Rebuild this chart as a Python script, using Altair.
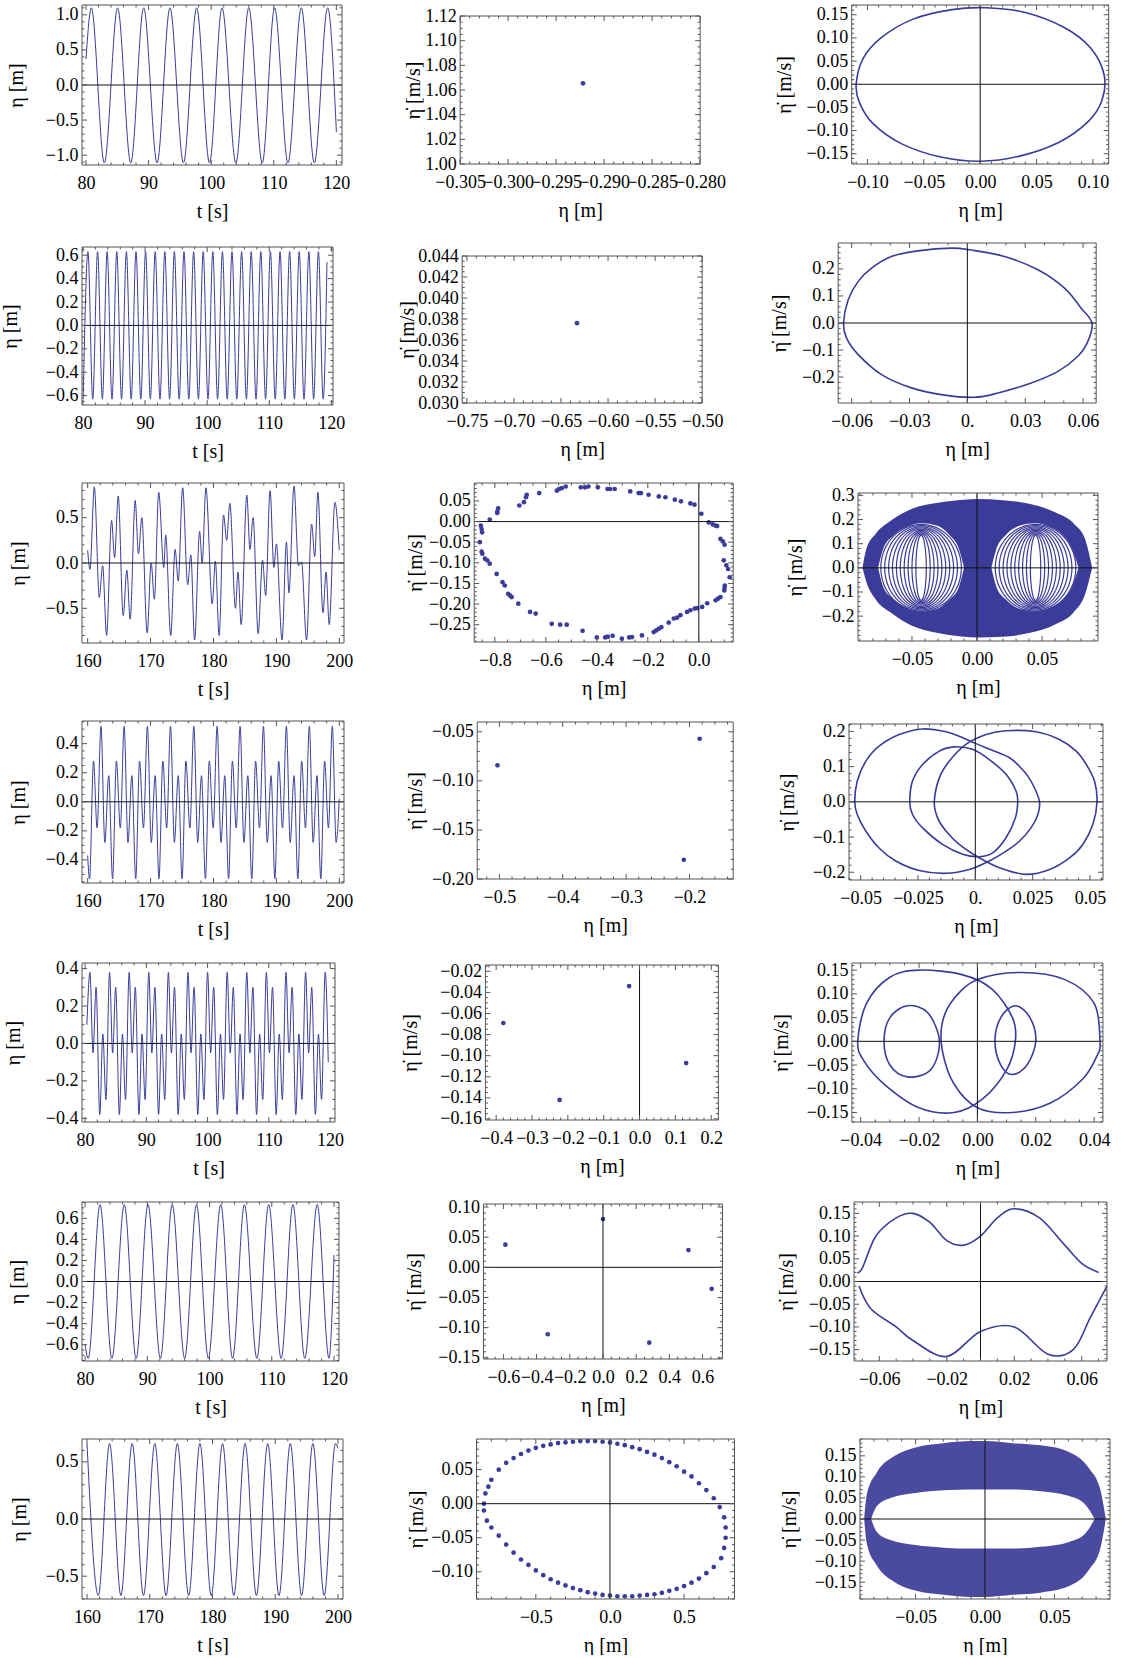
import json
import math
import altair as alt
import pandas as pd

BLUE = "#3b3b99"
FRAME = "#555555"
AXC = "#111111"
FONT = "Times New Roman, Liberation Serif, serif"
LFS = 18   # tick label font size
TFS = 20   # axis title font size

# ---------------- Row 1 ----------------
r1_t = [80.0, 80.85, 82.93, 85.05, 87.15, 89.21, 91.36, 93.41, 95.57, 97.68, 99.73,
        101.73, 103.95, 106.0, 108.16, 110.13, 112.27, 114.4, 116.48, 118.61, 120.0]
r1_eta = [0.37, 1.10, -1.11, 1.10, -1.11, 1.10, -1.11, 1.10, -1.11, 1.10, -1.11,
          1.10, -1.11, 1.10, -1.11, 1.10, -1.11, 1.10, -1.11, 1.10, -0.67]
r1_pc_x = [-0.2922]
r1_pc_y = [1.0654]
r1_ph_x = [-0.110, -0.104, -0.088, -0.060, -0.025, 0.005, 0.040, 0.075, 0.098, 0.110,
           0.108, 0.096, 0.070, 0.035, 0.000, -0.035, -0.070, -0.095, -0.107]
r1_ph_y = [0.000, 0.055, 0.100, 0.140, 0.161, 0.165, 0.155, 0.122, 0.078, 0.020,
           -0.035, -0.080, -0.125, -0.155, -0.166, -0.157, -0.128, -0.085, -0.040]

# ---------------- Row 2 ----------------
r2_t = [80.03, 80.80, 81.57, 82.35, 83.12, 83.89, 84.67, 85.44, 86.21, 86.99, 87.76, 88.54,
        89.31, 90.08, 90.85, 91.63, 92.40, 93.18, 93.95, 94.72, 95.49, 96.27, 97.04, 97.82,
        98.59, 99.36, 100.13, 100.91, 101.68, 102.46, 103.23, 104.00, 104.77, 105.55, 106.32,
        107.10, 107.87, 108.64, 109.41, 110.19, 110.96, 111.74, 112.51, 113.28, 114.05, 114.83,
        115.60, 116.38, 117.15, 117.92, 118.69, 119.30]
r2_eta = [-0.63, 0.63] * 25 + [-0.63, 0.54]
r2_pc_x = [-0.633]
r2_pc_y = [0.0376]
r2_ph_x = [-0.0642, -0.0618, -0.0566, -0.0497, -0.0394, -0.0256, -0.0083, 0.0020, 0.0193, 0.0366,
           0.0504, 0.0590, 0.0646, 0.0625, 0.0573, 0.0470, 0.0331, 0.0159, 0.0038, -0.0117,
           -0.0290, -0.0445, -0.0566, -0.0627]
r2_ph_y = [0.000, 0.086, 0.154, 0.203, 0.246, 0.267, 0.277, 0.270, 0.246, 0.197,
           0.129, 0.055, 0.000, -0.068, -0.123, -0.179, -0.222, -0.259, -0.275, -0.267,
           -0.240, -0.191, -0.117, -0.055]

# ---------------- Row 3 ----------------
r3_t = [160.0, 160.37, 161.06, 161.85, 162.38, 163.01, 163.80, 164.28, 164.86, 165.65, 166.23,
        166.76, 167.55, 168.08, 168.61, 169.46, 170.1, 170.6, 171.3, 172.1, 172.4, 173.2, 173.9,
        174.4, 175.1, 175.9, 176.4, 177.0, 177.8, 178.2, 178.8, 179.8, 180.3, 180.9, 181.6,
        182.1, 182.6, 183.5, 183.9, 184.4, 185.3, 185.8, 186.3, 187.1, 187.8, 188.3, 189.0,
        189.6, 190.0, 190.9, 191.6, 192.0, 192.8, 193.5, 194.0, 194.8, 195.6, 196.1, 196.6,
        197.4, 197.9, 198.4, 199.3, 200.0]
r3_eta = [0.14, -0.07, 0.84, -0.38, -0.03, -0.80, 0.47, 0.06, 0.74, -0.58, -0.08,
          -0.62, 0.69, 0.10, 0.50, -0.77, 0.0, -0.40, 0.78, -0.05, 0.31, -0.80, 0.15,
          -0.20, 0.83, -0.24, 0.09, -0.85, 0.35, 0.0, 0.83, -0.45, 0.02, -0.80, 0.53,
          0.25, 0.66, -0.50, -0.10, -0.68, 0.75, 0.15, 0.50, -0.78, 0.03, -0.36, 0.80,
          -0.05, 0.21, -0.85, 0.23, -0.33, 0.85, -0.03, 0.01, -0.85, 0.43, 0.07, 0.78,
          -0.55, -0.10, -0.68, 0.67, 0.14]
r3_pc_x = [-0.855, -0.852, -0.850, -0.859, -0.852, -0.849, -0.839, -0.830, -0.820, -0.793, -0.770,
           -0.761, -0.748, -0.741, -0.734, -0.708, -0.662, -0.640, -0.577, -0.544, -0.518, -0.456,
           -0.400, -0.367, -0.357, -0.338, -0.302, -0.273, -0.262, -0.223, -0.177, -0.167, -0.157,
           -0.147, -0.118, -0.098, -0.085, -0.072, -0.046, -0.033, -0.016, -0.007, 0.013, 0.033,
           0.066, 0.075, 0.085, 0.100, 0.101, 0.102, 0.121, 0.115, 0.108, 0.098, 0.101, 0.094,
           0.085, 0.072, 0.066, 0.055, 0.039, 0.010, -0.017, -0.033, -0.070, -0.094, -0.131,
           -0.157, -0.197, -0.227, -0.236, -0.269, -0.330, -0.348, -0.358, -0.396, -0.433, -0.446,
           -0.463, -0.522, -0.538, -0.548, -0.557, -0.626, -0.675, -0.678, -0.686, -0.704, -0.787,
           -0.790, -0.791, -0.820]
r3_pc_y = [-0.010, -0.018, -0.026, -0.050, -0.073, -0.078, -0.090, -0.094, -0.102, -0.127, -0.147,
           -0.155, -0.175, -0.179, -0.183, -0.199, -0.219, -0.223, -0.248, -0.250, -0.250, -0.265,
           -0.281, -0.281, -0.279, -0.277, -0.284, -0.281, -0.280, -0.276, -0.268, -0.264, -0.260,
           -0.256, -0.245, -0.235, -0.233, -0.227, -0.219, -0.215, -0.211, -0.210, -0.207, -0.198,
           -0.191, -0.187, -0.183, -0.167, -0.161, -0.155, -0.135, -0.115, -0.106, -0.094, -0.056,
           -0.048, -0.042, -0.011, -0.010, -0.007, -0.002, 0.019, 0.041, 0.044, 0.049, 0.053,
           0.059, 0.061, 0.065, 0.069, 0.069, 0.073, 0.079, 0.079, 0.079, 0.083, 0.085, 0.083,
           0.083, 0.085, 0.081, 0.079, 0.075, 0.069, 0.065, 0.059, 0.047, 0.039, 0.032,
           0.024, 0.021, 0.005]
r3_out_x = [-0.088, -0.085, -0.078, -0.065, -0.05, -0.03, -0.01, 0.0, 0.02, 0.04, 0.06, 0.075, 0.083, 0.0885]
r3_out_top = [0.0, 0.08, 0.14, 0.20, 0.245, 0.27, 0.282, 0.285, 0.28, 0.265, 0.23, 0.18, 0.12, 0.0]
r3_out_bot = [0.0, -0.06, -0.13, -0.19, -0.24, -0.27, -0.285, -0.288, -0.285, -0.27, -0.235, -0.18, -0.11, 0.0]
r3_eyeL_x = [-0.076, -0.072, -0.064, -0.054, -0.043, -0.031, -0.021, -0.014, -0.010]
r3_eyeL_top = [0.0, 0.08, 0.135, 0.17, 0.185, 0.175, 0.135, 0.08, 0.0]
r3_eyeL_bot = [0.0, -0.08, -0.13, -0.165, -0.18, -0.17, -0.13, -0.08, 0.0]
r3_eyeR_x = [0.011, 0.015, 0.022, 0.033, 0.045, 0.056, 0.066, 0.073, 0.078]
r3_eyeR_top = [0.0, 0.08, 0.135, 0.175, 0.185, 0.17, 0.135, 0.08, 0.0]
r3_eyeR_bot = [0.0, -0.08, -0.13, -0.17, -0.18, -0.165, -0.13, -0.08, 0.0]
r3_ring_cx = [-0.043] * 10 + [0.045] * 10
r3_ring_a = [0.031, 0.028, 0.025, 0.022, 0.019, 0.016, 0.013, 0.010, 0.007, 0.004] * 2
r3_ring_b = [0.18, 0.175, 0.17, 0.165, 0.16, 0.155, 0.15, 0.145, 0.14, 0.135] * 2

# ---------------- Row 4 ----------------
r4_t = [160.0, 160.3, 160.93, 161.5,
        162.12, 162.73, 163.35, 163.96, 164.57, 165.19,
        165.80, 166.41, 167.03, 167.64, 168.25, 168.87,
        169.50, 170.11, 170.73, 171.34, 171.95, 172.56,
        173.17, 173.78, 174.40, 175.01, 175.62, 176.25,
        176.88, 177.49, 178.10, 178.72, 179.34, 179.96,
        180.58, 181.19, 181.80, 182.40, 183.01, 183.62,
        184.23, 184.84, 185.46, 186.09, 186.70, 187.32,
        187.94, 188.55, 189.16, 189.76, 190.37, 190.98,
        191.59, 192.20, 192.81, 193.41, 194.02, 194.63,
        195.24, 195.85, 196.46, 197.06, 197.67, 198.28,
        198.89, 199.50, 200.0]
r4_eta = [-0.37, -0.53, 0.28, -0.18] + [0.52, -0.28, 0.18, -0.53, 0.28, -0.18] * 10 + [0.52, -0.28, 0.02]
r4_pc_x = [-0.503, -0.209, -0.184]
r4_pc_y = [-0.0842, -0.1805, -0.0571]
r4_A_x = [-0.0526, -0.0515, -0.0478, -0.0420, -0.0332, -0.0230, -0.0128, -0.0055, 0.0, 0.0076, 0.0149,
          0.0192, 0.0229, 0.0258, 0.0280, 0.0273, 0.0243, 0.0192, 0.0134, 0.0061, -0.0026, -0.0128,
          -0.0245, -0.0347, -0.0420, -0.0478, -0.0515]
r4_A_y = [0.0, 0.059, 0.115, 0.158, 0.191, 0.207, 0.199, 0.182, 0.166, 0.146, 0.125,
          0.101, 0.073, 0.040, 0.0, -0.036, -0.074, -0.112, -0.140, -0.168, -0.192, -0.203,
          -0.195, -0.168, -0.131, -0.083, -0.036]
r4_B_x = [0.0531, 0.0520, 0.0484, 0.0440, 0.0367, 0.0265, 0.0134, 0.0047, -0.0041, -0.0114, -0.0157,
          -0.0179, -0.0165, -0.0128, -0.0070, 0.0017, 0.0105, 0.0222, 0.0324, 0.0411, 0.0469, 0.0513]
r4_B_y = [0.0, 0.059, 0.106, 0.144, 0.177, 0.199, 0.202, 0.191, 0.163, 0.115, 0.068,
          0.0, -0.045, -0.083, -0.121, -0.159, -0.187, -0.206, -0.192, -0.159, -0.121, -0.064]
r4_C_x = [-0.0286, -0.0274, -0.0230, -0.0157, -0.0092, -0.0012, 0.0061, 0.0134, 0.0178, 0.0185,
          0.0175, 0.0134, 0.0076, 0.0017, -0.0055, -0.0143, -0.0230, -0.0274]
r4_C_y = [0.0, 0.059, 0.106, 0.144, 0.156, 0.149, 0.120, 0.078, 0.030, 0.0,
          -0.045, -0.102, -0.145, -0.156, -0.149, -0.121, -0.074, -0.036]

# ---------------- Row 5 ----------------
r5_t = [80.3, 80.8, 81.3, 81.8, 82.4, 82.9, 83.4, 84.0, 84.5, 85.0, 85.6, 86.1, 86.6, 87.2, 87.7,
        88.2, 88.8, 89.3, 89.8, 90.4, 90.9, 91.4, 92.0, 92.5, 93.0, 93.6, 94.1, 94.6, 95.2, 95.7,
        96.2, 96.8, 97.3, 97.8, 98.4, 98.9, 99.4, 100.0, 100.5, 101.0, 101.6, 102.1, 102.6, 103.2,
        103.7, 104.2, 104.8, 105.3, 105.8, 106.4, 106.9, 107.4, 108.0, 108.5, 109.0, 109.6, 110.1,
        110.6, 111.2, 111.7, 112.2, 112.8, 113.3, 113.8, 114.4, 114.9, 115.4, 116.0, 116.5, 117.0,
        117.6, 118.1, 118.6, 119.2, 119.7]
r5_eta = [0.1, 0.38, -0.05, 0.3, -0.38, 0.05, -0.3] + [0.38, -0.05, 0.3, -0.38, 0.05, -0.3] * 11 + [0.38, -0.1]
r5_pc_x = [-0.380, -0.223, -0.029, 0.130]
r5_pc_y = [-0.069, -0.142, -0.034, -0.107]
r5_L1_x = [-0.041, -0.038, -0.030, -0.020, -0.005, 0.005, 0.012, 0.013, 0.010, 0.002, -0.008, -0.020, -0.032, -0.039]
r5_L1_y = [0.0, 0.08, 0.135, 0.15, 0.14, 0.11, 0.05, 0.0, -0.06, -0.12, -0.15, -0.14, -0.09, -0.04]
r5_L2_x = [0.042, 0.040, 0.030, 0.015, 0.000, -0.008, -0.012, -0.012, -0.008, 0.000, 0.012, 0.025, 0.036, 0.041]
r5_L2_y = [0.0, 0.08, 0.13, 0.145, 0.13, 0.09, 0.04, -0.02, -0.09, -0.14, -0.15, -0.13, -0.08, -0.03]
r5_L3_x = [-0.032, -0.030, -0.024, -0.017, -0.013, -0.016, -0.024, -0.030]
r5_L3_y = [0.0, 0.05, 0.075, 0.06, 0.0, -0.06, -0.075, -0.05]
r5_L4_x = [0.006, 0.008, 0.013, 0.018, 0.020, 0.017, 0.012, 0.008]
r5_L4_y = [0.0, 0.05, 0.075, 0.05, 0.0, -0.05, -0.07, -0.05]

# ---------------- Row 6 ----------------
r6_t = [80.0, 80.5, 82.4, 84.3, 86.3, 88.2, 90.1, 92.1, 94.0, 96.0, 97.9, 99.8, 101.8, 103.7,
        105.6, 107.6, 109.5, 111.5, 113.4, 115.3, 117.3, 119.2, 120.0]
r6_eta = [-0.6, -0.73, 0.73, -0.73, 0.73, -0.73, 0.73, -0.73, 0.73, -0.73, 0.73, -0.73, 0.73, -0.73,
          0.73, -0.73, 0.73, -0.73, 0.73, -0.73, 0.73, -0.73, 0.25]
r6_pc_x = [-0.588, -0.333, 0.0, 0.279, 0.515, 0.655]
r6_pc_y = [0.0375, -0.111, 0.080, -0.125, 0.0286, -0.0357]
r6_up_x = [-0.073, -0.070, -0.062, -0.050, -0.040, -0.030, -0.020, -0.010, 0.0, 0.010, 0.020, 0.035, 0.050, 0.060, 0.070]
r6_up_y = [0.02, 0.03, 0.10, 0.14, 0.15, 0.13, 0.09, 0.08, 0.10, 0.14, 0.16, 0.14, 0.08, 0.04, 0.02]
r6_dn_x = [-0.072, -0.065, -0.050, -0.040, -0.020, 0.0, 0.020, 0.040, 0.055, 0.065, 0.075]
r6_dn_y = [-0.01, -0.06, -0.10, -0.13, -0.165, -0.11, -0.10, -0.16, -0.15, -0.08, -0.01]

# ---------------- Row 7 ----------------
r7_t = [160.0, 161.8, 163.6, 165.4, 167.2, 169.0, 170.8, 172.6, 174.4, 176.2, 178.0, 179.8, 181.6,
        183.4, 185.2, 187.0, 188.8, 190.6, 192.4, 194.2, 196.0, 197.8, 199.6, 200.0]
r7_eta = [0.66, -0.67] * 11 + [0.66, 0.62]
r7_pc_x = [-0.80, -0.75, -0.70, -0.65, -0.60, -0.55, -0.50, -0.45, -0.40, -0.35, -0.30, -0.25, -0.20,
           -0.15, -0.10, -0.05, 0.0, 0.05, 0.10, 0.15, 0.20, 0.25, 0.30, 0.35, 0.40, 0.45, 0.50,
           0.55, 0.60, 0.65, 0.70, 0.74, 0.77, 0.78, 0.78, 0.77, 0.75, 0.70, 0.65, 0.60, 0.55,
           0.50, 0.45, 0.40, 0.35, 0.30, 0.25, 0.20, 0.15, 0.10, 0.05, 0.0, -0.05, -0.10, -0.15,
           -0.20, -0.25, -0.30, -0.35, -0.40, -0.45, -0.50, -0.55, -0.60, -0.65, -0.70, -0.75,
           -0.80, -0.83, -0.85, -0.85, -0.84, -0.82]
r7_pc_y = [0.035, 0.05, 0.06, 0.067, 0.073, 0.078, 0.082, 0.085, 0.087, 0.089, 0.09, 0.091, 0.092,
           0.092, 0.092, 0.091, 0.09, 0.088, 0.086, 0.083, 0.08, 0.076, 0.072, 0.067, 0.061, 0.055,
           0.047, 0.04, 0.03, 0.02, 0.008, -0.005, -0.02, -0.035, -0.05, -0.065, -0.08, -0.093,
           -0.102, -0.11, -0.116, -0.121, -0.125, -0.128, -0.131, -0.133, -0.134, -0.135, -0.136,
           -0.136, -0.136, -0.135, -0.134, -0.132, -0.13, -0.127, -0.124, -0.12, -0.116, -0.111,
           -0.105, -0.098, -0.09, -0.082, -0.072, -0.06, -0.047, -0.035, -0.025, -0.01, 0.0,
           0.015, 0.025]
r7_out_x = [-0.087, -0.085, -0.078, -0.065, -0.05, -0.03, -0.01, 0.0, 0.02, 0.04, 0.06, 0.075, 0.083, 0.087]
r7_out_top = [0.0, 0.06, 0.11, 0.15, 0.17, 0.18, 0.185, 0.185, 0.18, 0.175, 0.16, 0.12, 0.07, 0.0]
r7_out_bot = [0.0, -0.06, -0.11, -0.15, -0.17, -0.18, -0.185, -0.185, -0.18, -0.175, -0.16, -0.12, -0.07, 0.0]
r7_in_x = [-0.082, -0.078, -0.068, -0.05, -0.03, -0.01, 0.0, 0.02, 0.04, 0.06, 0.072, 0.079]
r7_in_top = [0.0, 0.03, 0.05, 0.062, 0.068, 0.07, 0.07, 0.07, 0.066, 0.055, 0.035, 0.0]
r7_in_bot = [0.0, -0.03, -0.05, -0.062, -0.068, -0.07, -0.07, -0.07, -0.066, -0.055, -0.035, 0.0]

# ---------------- tick labels ----------------
TS1 = [80, 90, 100, 110, 120]
TS1_L = ["80", "90", "100", "110", "120"]
TS2 = [160, 170, 180, 190, 200]
TS2_L = ["160", "170", "180", "190", "200"]


def minus(s):
    return s.replace("-", "\u2212")


def fmt_list(vals, nd):
    return [minus(f"{v:.{nd}f}") for v in vals]


def minor_ticks(major, dom, n):
    step = (major[1] - major[0]) / n
    out = []
    k0 = math.floor((dom[0] - major[0]) / step) - 1
    k1 = math.ceil((dom[1] - major[0]) / step) + 1
    for k in range(k0, k1 + 1):
        v = major[0] + k * step
        if dom[0] <= v <= dom[1] and k % n != 0:
            out.append(round(v, 10))
    return out


def lab_expr(vals, labs):
    return ("[" + ",".join(json.dumps(l, ensure_ascii=False) for l in labs) + "][indexof(["
            + ",".join(repr(float(v)) for v in vals) + "], datum.value)]")


def text_w(s):
    em = {".": 0.25, "\u2212": 0.564}
    return sum(em.get(ch, 0.5) for ch in s) * LFS


def right_overflow(P, w):
    d0, d1 = P["xdom"]
    ov = 0.0
    for v, lab in zip(P["xt"], P["xl"]):
        pos = (v - d0) / (d1 - d0) * w
        ov = max(ov, pos + text_w(lab) / 2 - w)
    return ov


def xy(xs, ys, g=0):
    return pd.DataFrame({"x": xs, "y": ys, "i": list(range(len(xs))), "g": [g] * len(xs)})


def L_line(df, interp="monotone", sw=1.0):
    def f(xs, ys, xa, ya):
        return alt.Chart(df).mark_line(interpolate=interp, color=BLUE, strokeWidth=sw, clip=True).encode(
            x=alt.X("x:Q", scale=xs, axis=xa), y=alt.Y("y:Q", scale=ys, axis=ya),
            order="i:Q", detail="g:N")
    return f


def L_pts(df, size=22):
    def f(xs, ys, xa, ya):
        return alt.Chart(df).mark_circle(size=size, color=BLUE, opacity=1, clip=True).encode(
            x=alt.X("x:Q", scale=xs, axis=xa), y=alt.Y("y:Q", scale=ys, axis=ya))
    return f


def L_area(xv, top, bot, color, op=1.0):
    df = pd.DataFrame({"x": xv, "y": top, "y2": bot})

    def f(xs, ys, xa, ya):
        return alt.Chart(df).mark_area(color=color, interpolate="monotone", opacity=op, clip=True).encode(
            x=alt.X("x:Q", scale=xs, axis=xa), y=alt.Y("y:Q", scale=ys, axis=ya), y2="y2:Q")
    return f


def rings(cxs, as_, bs):
    rows = []
    for g, (cx, a, b) in enumerate(zip(cxs, as_, bs)):
        for i in range(24):
            th = 2 * math.pi * i / 24
            rows.append({"x": cx + a * math.cos(th), "y": b * math.sin(th), "i": i, "g": g})
    return pd.DataFrame(rows)


TITLE_PAD = 6
TITLE_THICK = 26     # bounds thickness of a rotated y title
TITLE_MID = 11       # anchor line -> visual centre of the y title
SHIFT2, SHIFT3 = 5, 2


def panel(P, ti, w, h, ext):
    H = ti + h
    xdom, ydom = P["xdom"], P["ydom"]
    xs = alt.Scale(domain=xdom, nice=False, zero=False)
    ys = alt.Scale(domain=ydom, nice=False, zero=False, range=[H, ti])
    xt, xl = P["xt"], P["xl"]
    yt, yl = P["yt"], P["yl"]
    xin = [v for v in xt if xdom[0] - 1e-12 <= v <= xdom[1] + 1e-12]
    yin = [v for v in yt if ydom[0] - 1e-12 <= v <= ydom[1] + 1e-12]
    xmin = minor_ticks(xt, xdom, P.get("xn", 5))
    ymin = minor_ticks(yt, ydom, P.get("yn", 5))

    xa = alt.Axis(values=xt, labelExpr=lab_expr(xt, xl), ticks=False, tickSize=0, domain=False,
                  grid=False, labelPadding=9, labelFontSize=LFS, labelFont=FONT, labelColor="black",
                  labelOverlap=False, labelFlush=False, title=P["xtitle"], titleFont=FONT,
                  titleFontSize=TFS, titleFontWeight="normal", titleColor="black", titlePadding=12,
                  minExtent=24, maxExtent=24)
    ya = alt.Axis(values=yt, labelExpr=lab_expr(yt, yl), ticks=False, tickSize=0, domain=False,
                  grid=False, labelPadding=4, labelFontSize=LFS, labelFont=FONT, labelColor="black",
                  labelOverlap=False, labelFlush=False, title=P["ytitle"], titleFont=FONT,
                  titleFontSize=TFS, titleFontWeight="normal", titleColor="black",
                  titlePadding=TITLE_PAD, minExtent=ext, maxExtent=ext)

    one = pd.DataFrame({"o": [0]})
    layers = [alt.Chart(one).mark_rect(fill="white", strokeWidth=0).encode(
        x=alt.value(0), x2=alt.value(w), y=alt.value(ti), y2=alt.value(H))]
    for f in P["layers"]:
        layers.append(f(xs, ys, xa, ya))
    zero = pd.DataFrame({"v": [0.0]})
    if ydom[0] < 0 < ydom[1]:
        layers.append(alt.Chart(zero).mark_rule(color=AXC, strokeWidth=1).encode(
            y=alt.Y("v:Q", scale=ys, axis=ya), x=alt.value(0), x2=alt.value(w)))
    if xdom[0] < 0 < xdom[1]:
        layers.append(alt.Chart(zero).mark_rule(color=AXC, strokeWidth=1).encode(
            x=alt.X("v:Q", scale=xs, axis=xa), y=alt.value(ti), y2=alt.value(H)))
    layers.append(alt.Chart(one).mark_rect(fill="transparent", stroke=FRAME, strokeWidth=1).encode(
        x=alt.value(0), x2=alt.value(w), y=alt.value(ti), y2=alt.value(H)))
    tl, tm = 5, 2.5
    layers.append(alt.Chart(pd.DataFrame({"v": xin})).mark_rule(color=FRAME, strokeDash=[tl, h - 2 * tl]).encode(
        x=alt.X("v:Q", scale=xs, axis=xa), y=alt.value(ti), y2=alt.value(H)))
    layers.append(alt.Chart(pd.DataFrame({"v": yin})).mark_rule(color=FRAME, strokeDash=[tl, w - 2 * tl]).encode(
        y=alt.Y("v:Q", scale=ys, axis=ya), x=alt.value(0), x2=alt.value(w)))
    if xmin:
        layers.append(alt.Chart(pd.DataFrame({"v": xmin})).mark_rule(color=FRAME, strokeDash=[tm, h - 2 * tm]).encode(
            x=alt.X("v:Q", scale=xs, axis=xa), y=alt.value(ti), y2=alt.value(H)))
    if ymin:
        layers.append(alt.Chart(pd.DataFrame({"v": ymin})).mark_rule(color=FRAME, strokeDash=[tm, w - 2 * tm]).encode(
            y=alt.Y("v:Q", scale=ys, axis=ya), x=alt.value(0), x2=alt.value(w)))
    return alt.layer(*layers).properties(width=w, height=H)


ETA = "\u03b7 [m]"
ETAD = "\u03b7\u0307 [m/s]"

y1 = [-1.0, -0.5, 0.0, 0.5, 1.0]
y2 = [-0.6, -0.4, -0.2, 0.0, 0.2, 0.4, 0.6]
y3 = [-0.5, 0.0, 0.5]
y4 = [-0.4, -0.2, 0.0, 0.2, 0.4]
p15 = [-0.15, -0.10, -0.05, 0.0, 0.05, 0.10, 0.15]

specs = [
    [
        dict(xdom=[79.36, 120.9], ydom=[-1.14, 1.14], xt=TS1, xl=TS1_L,
             yt=y1, yl=fmt_list(y1, 1), xtitle="t [s]", ytitle=ETA,
             layers=[L_line(xy(r1_t, r1_eta))]),
        dict(xdom=[-0.305, -0.280], ydom=[1.00, 1.12],
             xt=[-0.305, -0.300, -0.295, -0.290, -0.285, -0.280],
             xl=["\u22120.305", "\u22120.300", "\u22120.295", "\u22120.290", "\u22120.285", "\u22120.280"],
             yt=[1.00, 1.02, 1.04, 1.06, 1.08, 1.10, 1.12],
             yl=["1.00", "1.02", "1.04", "1.06", "1.08", "1.10", "1.12"], yn=4,
             xtitle=ETA, ytitle=ETAD, layers=[L_pts(xy(r1_pc_x, r1_pc_y))]),
        dict(xdom=[-0.114, 0.114], ydom=[-0.172, 0.171],
             xt=[-0.10, -0.05, 0.0, 0.05, 0.10], xl=fmt_list([-0.10, -0.05, 0.0, 0.05, 0.10], 2),
             yt=p15, yl=fmt_list(p15, 2), xtitle=ETA, ytitle=ETAD,
             layers=[L_line(xy(r1_ph_x, r1_ph_y), "cardinal-closed", 1.6)]),
    ],
    [
        dict(xdom=[79.84, 120.27], ydom=[-0.68, 0.67], xt=TS1, xl=TS1_L,
             yt=y2, yl=fmt_list(y2, 1), yn=4, xtitle="t [s]", ytitle=ETA,
             layers=[L_line(xy(r2_t, r2_eta))]),
        dict(xdom=[-0.755, -0.50], ydom=[0.030, 0.044],
             xt=[-0.75, -0.70, -0.65, -0.60, -0.55, -0.50],
             xl=fmt_list([-0.75, -0.70, -0.65, -0.60, -0.55, -0.50], 2),
             yt=[0.030, 0.032, 0.034, 0.036, 0.038, 0.040, 0.042, 0.044],
             yl=fmt_list([0.030, 0.032, 0.034, 0.036, 0.038, 0.040, 0.042, 0.044], 3), yn=4,
             xtitle=ETA, ytitle=ETAD, layers=[L_pts(xy(r2_pc_x, r2_pc_y))]),
        dict(xdom=[-0.067, 0.0668], ydom=[-0.296, 0.296],
             xt=[-0.06, -0.03, 0.0, 0.03, 0.06], xl=["\u22120.06", "\u22120.03", "0.", "0.03", "0.06"],
             xn=3, yt=[-0.2, -0.1, 0.0, 0.1, 0.2], yl=fmt_list([-0.2, -0.1, 0.0, 0.1, 0.2], 1),
             xtitle=ETA, ytitle=ETAD,
             layers=[L_line(xy(r2_ph_x, r2_ph_y), "cardinal-closed", 1.6)]),
    ],
    [
        dict(xdom=[159.1, 200.75], ydom=[-0.883, 0.883], xt=TS2, xl=TS2_L,
             yt=y3, yl=fmt_list(y3, 1), xtitle="t [s]", ytitle=ETA,
             layers=[L_line(xy(r3_t, r3_eta))]),
        dict(xdom=[-0.881, 0.135], ydom=[-0.292, 0.0935],
             xt=[-0.8, -0.6, -0.4, -0.2, 0.0], xl=fmt_list([-0.8, -0.6, -0.4, -0.2, 0.0], 1), xn=4,
             yt=[-0.25, -0.20, -0.15, -0.10, -0.05, 0.0, 0.05],
             yl=fmt_list([-0.25, -0.20, -0.15, -0.10, -0.05, 0.0, 0.05], 2),
             xtitle=ETA, ytitle=ETAD, layers=[L_pts(xy(r3_pc_x, r3_pc_y))]),
        dict(xdom=[-0.0915, 0.093], ydom=[-0.303, 0.31],
             xt=[-0.05, 0.0, 0.05], xl=fmt_list([-0.05, 0.0, 0.05], 2),
             yt=[-0.2, -0.1, 0.0, 0.1, 0.2, 0.3], yl=fmt_list([-0.2, -0.1, 0.0, 0.1, 0.2, 0.3], 1),
             xtitle=ETA, ytitle=ETAD,
             layers=[L_area(r3_out_x, r3_out_top, r3_out_bot, BLUE),
                     L_area(r3_eyeL_x, r3_eyeL_top, r3_eyeL_bot, "white"),
                     L_area(r3_eyeR_x, r3_eyeR_top, r3_eyeR_bot, "white"),
                     L_line(rings(r3_ring_cx, r3_ring_a, r3_ring_b), "cardinal-closed", 1.2)]),
    ],
    [
        dict(xdom=[159.1, 200.75], ydom=[-0.559, 0.556], xt=TS2, xl=TS2_L,
             yt=y4, yl=fmt_list(y4, 1), yn=4, xtitle="t [s]", ytitle=ETA,
             layers=[L_line(xy(r4_t, r4_eta))]),
        dict(xdom=[-0.535, -0.131], ydom=[-0.2, -0.040],
             xt=[-0.5, -0.4, -0.3, -0.2], xl=fmt_list([-0.5, -0.4, -0.3, -0.2], 1),
             yt=[-0.20, -0.15, -0.10, -0.05], yl=fmt_list([-0.20, -0.15, -0.10, -0.05], 2),
             xtitle=ETA, ytitle=ETAD, layers=[L_pts(xy(r4_pc_x, r4_pc_y))]),
        dict(xdom=[-0.0551, 0.0557], ydom=[-0.222, 0.221],
             xt=[-0.05, -0.025, 0.0, 0.025, 0.05],
             xl=["\u22120.05", "\u22120.025", "0.", "0.025", "0.05"],
             yt=[-0.2, -0.1, 0.0, 0.1, 0.2], yl=fmt_list([-0.2, -0.1, 0.0, 0.1, 0.2], 1),
             xtitle=ETA, ytitle=ETAD,
             layers=[L_line(pd.concat([xy(r4_A_x, r4_A_y, 0), xy(r4_B_x, r4_B_y, 1), xy(r4_C_x, r4_C_y, 2)]),
                            "cardinal-closed", 1.6)]),
    ],
    [
        dict(xdom=[79.5, 120.8], ydom=[-0.42, 0.43], xt=TS1, xl=TS1_L,
             yt=y4, yl=fmt_list(y4, 1), yn=4, xtitle="t [s]", ytitle=ETA,
             layers=[L_line(xy(r5_t, r5_eta))]),
        dict(xdom=[-0.43, 0.22], ydom=[-0.161, -0.014],
             xt=[-0.4, -0.3, -0.2, -0.1, 0.0, 0.1, 0.2], xl=fmt_list([-0.4, -0.3, -0.2, -0.1, 0.0, 0.1, 0.2], 1),
             yt=[-0.16, -0.14, -0.12, -0.10, -0.08, -0.06, -0.04, -0.02],
             yl=fmt_list([-0.16, -0.14, -0.12, -0.10, -0.08, -0.06, -0.04, -0.02], 2), yn=4,
             xtitle=ETA, ytitle=ETAD, layers=[L_pts(xy(r5_pc_x, r5_pc_y))]),
        dict(xdom=[-0.043, 0.043], ydom=[-0.17, 0.165],
             xt=[-0.04, -0.02, 0.0, 0.02, 0.04], xl=fmt_list([-0.04, -0.02, 0.0, 0.02, 0.04], 2), xn=4,
             yt=p15, yl=fmt_list(p15, 2), xtitle=ETA, ytitle=ETAD,
             layers=[L_line(pd.concat([xy(r5_L1_x, r5_L1_y, 0), xy(r5_L2_x, r5_L2_y, 1),
                                       xy(r5_L3_x, r5_L3_y, 2), xy(r5_L4_x, r5_L4_y, 3)]),
                            "cardinal-closed", 1.6)]),
    ],
    [
        dict(xdom=[79.5, 120.8], ydom=[-0.755, 0.755], xt=TS1, xl=TS1_L,
             yt=y2, yl=fmt_list(y2, 1), yn=4, xtitle="t [s]", ytitle=ETA,
             layers=[L_line(xy(r6_t, r6_eta))]),
        dict(xdom=[-0.72, 0.72], ydom=[-0.152, 0.105],
             xt=[-0.6, -0.4, -0.2, 0.0, 0.2, 0.4, 0.6], xl=fmt_list([-0.6, -0.4, -0.2, 0.0, 0.2, 0.4, 0.6], 1),
             xn=4, yt=[-0.15, -0.10, -0.05, 0.0, 0.05, 0.10],
             yl=fmt_list([-0.15, -0.10, -0.05, 0.0, 0.05, 0.10], 2),
             xtitle=ETA, ytitle=ETAD, layers=[L_pts(xy(r6_pc_x, r6_pc_y))]),
        dict(xdom=[-0.075, 0.075], ydom=[-0.175, 0.175],
             xt=[-0.06, -0.02, 0.02, 0.06], xl=fmt_list([-0.06, -0.02, 0.02, 0.06], 2), xn=4,
             yt=p15, yl=fmt_list(p15, 2), xtitle=ETA, ytitle=ETAD,
             layers=[L_line(pd.concat([xy(r6_up_x, r6_up_y, 0), xy(r6_dn_x, r6_dn_y, 1)]), "cardinal", 1.6)]),
    ],
    [
        dict(xdom=[159.2, 200.8], ydom=[-0.70, 0.70], xt=TS2, xl=TS2_L,
             yt=y3, yl=fmt_list(y3, 1), xtitle="t [s]", ytitle=ETA,
             layers=[L_line(xy(r7_t, r7_eta))]),
        dict(xdom=[-0.90, 0.84], ydom=[-0.14, 0.095],
             xt=[-0.5, 0.0, 0.5], xl=fmt_list([-0.5, 0.0, 0.5], 1),
             yt=[-0.10, -0.05, 0.0, 0.05], yl=fmt_list([-0.10, -0.05, 0.0, 0.05], 2),
             xtitle=ETA, ytitle=ETAD, layers=[L_pts(xy(r7_pc_x, r7_pc_y))]),
        dict(xdom=[-0.09, 0.09], ydom=[-0.19, 0.19],
             xt=[-0.05, 0.0, 0.05], xl=fmt_list([-0.05, 0.0, 0.05], 2),
             yt=p15, yl=fmt_list(p15, 2), xtitle=ETA, ytitle=ETAD,
             layers=[L_area(r7_out_x, r7_out_top, r7_out_bot, BLUE, 0.92),
                     L_area(r7_in_x, r7_in_top, r7_in_bot, "white")]),
    ],
]

# ---- layout: plot boxes (left, right, top, bottom) in page pixels, and y-title centres ----
BOX = [
    [(82, 342, 4, 164), (461, 701, 15, 163), (856, 1113, 4, 163)],
    [(88, 339, 246, 404), (469, 709, 255, 402), (848, 1106, 242, 402)],
    [(80, 342, 482, 642), (473, 732, 482, 641), (860, 1100, 492, 640)],
    [(80, 342, 720, 882), (476, 732, 721, 878), (851, 1105, 723, 879)],
    [(85, 338, 962, 1121), (489, 722, 964, 1119), (859, 1110, 962, 1121)],
    [(81, 338, 1200, 1359), (483, 722, 1202, 1357), (857, 1110, 1200, 1359)],
    [(79, 340, 1437, 1597), (474, 732, 1437, 1597), (860, 1110, 1437, 1597)],
]
TC = [[15, 413, 788]] * 2 + [[15, 413, 796]] + [[15, 413, 788]] * 4
XAX_EXTENT = 24 + 12 + TFS
VSP = 20

row_charts = []
row_top = BOX[0][0][2]
for r, (spec_row, box_row) in enumerate(zip(specs, BOX)):
    cells = []
    for c, (P, (l, rgt, t, b)) in enumerate(zip(spec_row, box_row)):
        ti = max(0, t - row_top)
        h = b - max(t, row_top)
        anchor = TC[r][c] + TITLE_MID
        ext = l - anchor - TITLE_PAD
        cells.append(panel(P, ti, rgt - l, h, ext))
    ov = [right_overflow(P, bx[1] - bx[0]) for P, bx in zip(spec_row, box_row)]
    left_bound2 = TC[r][1] + TITLE_MID - TITLE_THICK
    left_bound3 = TC[r][2] + TITLE_MID - TITLE_THICK
    a = left_bound2 - (box_row[0][1] + ov[0]) + SHIFT2
    bsp = left_bound3 - (box_row[1][1] + ov[1]) + SHIFT3
    row_charts.append(alt.hconcat(alt.hconcat(cells[0], cells[1], spacing=a), cells[2], spacing=bsp))
    row_top = max(bb[3] for bb in box_row) + XAX_EXTENT + VSP

left_pad = TC[0][0] + TITLE_MID - TITLE_THICK
chart = alt.vconcat(*row_charts, spacing=VSP).properties(
    padding={"left": max(0, left_pad), "top": BOX[0][0][2], "right": 0, "bottom": 0}
).configure(background="white").configure_view(stroke="transparent", strokeWidth=0)

chart.save("out.html", embed_options={"renderer": "svg", "actions": False})
